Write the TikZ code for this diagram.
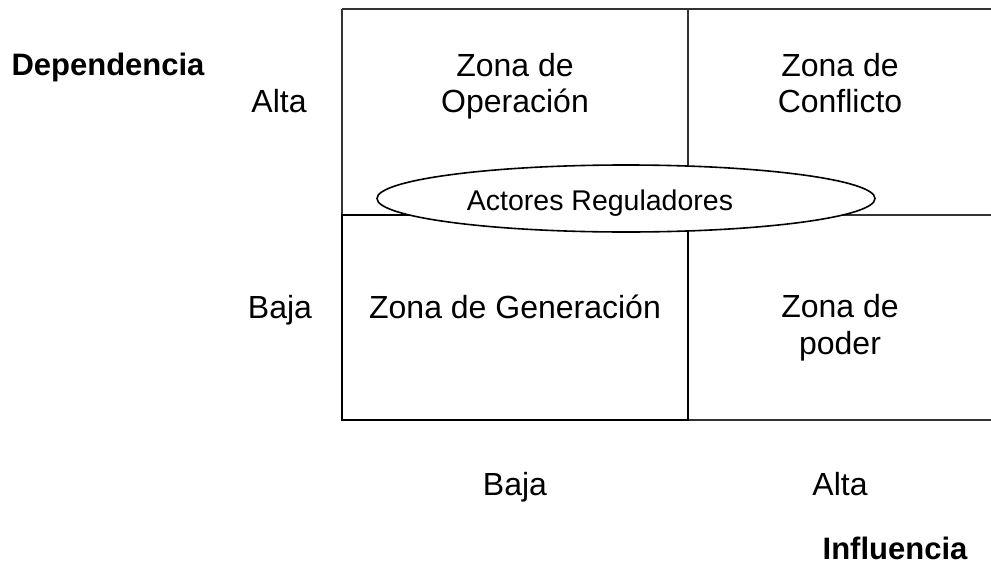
\documentclass[tikz,border=0pt]{standalone}
\usepackage{fontspec}
\setmainfont{Liberation Sans}
\usetikzlibrary{shapes.geometric,positioning}
\tikzstyle{zone} = [font=\fontsize{32}{36.5}\selectfont, align=center, inner sep=0pt, anchor=base]
\tikzstyle{axis} = [font=\bfseries\fontsize{31}{36}\selectfont, inner sep=0pt, anchor=base]
\tikzstyle{grid} = [line width=1.6pt, black!80]

\begin{document}
\begin{tikzpicture}[x=1pt, y=-1pt]
            \useasboundingbox (0,0) rectangle (991,565);
            \coordinate (TL) at (342,9);
            \coordinate (TM) at (688,9);
            \coordinate (TR) at (991,9);
            \coordinate (ML) at (342,215);
            \coordinate (MR) at (991,215);
            \coordinate (BL) at (342,420);
            \coordinate (BM) at (688,420);
            \coordinate (BR) at (991,420);
            
            % grid
            \draw[grid] (TL) -- (TR);
            \draw[grid] (ML) -- (MR);
            \draw[grid] (BL) -- (BR);
            \draw[grid] (TL) -- (BL);
            \draw[grid] (TM) -- (BM);
            \draw[line width=2.6pt] (ML) rectangle (BM);
            
            % zonas (base = last line)
            \node[zone] (op) at (515,112.5) {Zona de\\Operación};
            \node[zone] (co) at (840,112.5) {Zona de\\Conflicto};
            \node[zone] (ge) at (515,318) {Zona de Generación};
            \node[zone] (po) at (840,354) {Zona de\\poder};
            
            \node[ellipse, draw, line width=1.6pt, fill=white, minimum width=498pt, minimum height=67pt] (reg) at (626,198.5) {};
            \node[zone, font=\fontsize{28.5}{32}\selectfont] (regtxt) at (600,210) {Actores Reguladores};
            
            % ejes
            \node[axis] (dep) at (108,75) {Dependencia};
            \node[zone] (dalta) at (279,112.5) {Alta};
            \node[zone] (dbaja) at (280,318) {Baja};
            \node[zone] (ibaja) at (515,495) {Baja};
            \node[zone] (ialta) at (840,495) {Alta};
            \node[axis] (inf) at (895,559) {Influencia};
        \end{tikzpicture}
\end{document}
